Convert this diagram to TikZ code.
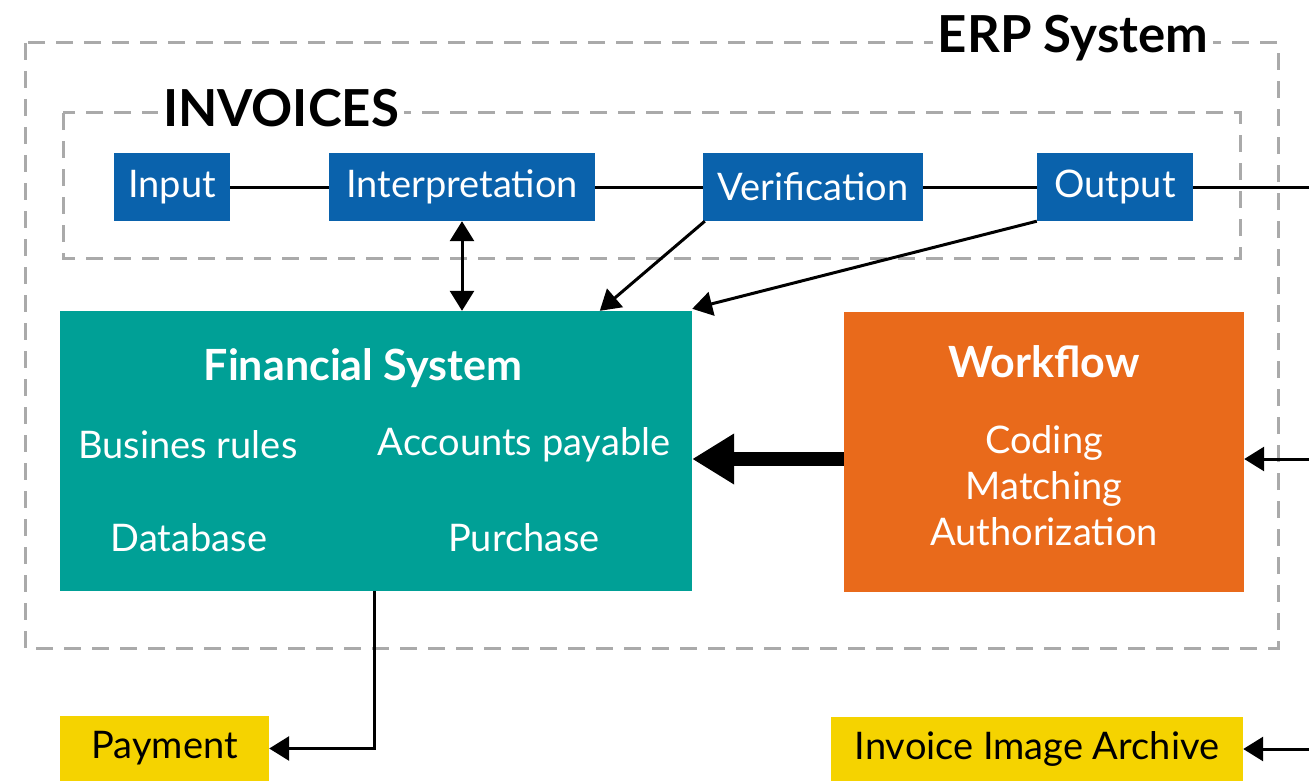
\documentclass[tikz,border=0pt]{standalone}
\usepackage{fontspec}
\setmainfont{Lato}
\usepackage{tikz}
\usetikzlibrary{arrows.meta}

\definecolor{boxblue}{HTML}{0A62AC}
\definecolor{boxteal}{HTML}{00A096}
\definecolor{boxorange}{HTML}{E96A1B}
\definecolor{boxyellow}{HTML}{F5D300}
\definecolor{dashgray}{HTML}{AAAAAA}

\tikzset{
  step box/.style={fill=boxblue, text=white, minimum height=68pt, inner sep=0pt, font=\fontsize{38}{40}\selectfont},
  big box/.style={minimum height=280pt, inner sep=0pt},
  out box/.style={fill=boxyellow, text=black, minimum height=65pt, inner sep=0pt, font=\fontsize{38}{40}\selectfont},
  frame/.style={draw=dashgray, line width=3pt, dash pattern=on 17pt off 11pt},
  title/.style={fill=white, inner sep=5pt, font=\bfseries\fontsize{51}{54}\selectfont},
  inbox/.style={text=white, font=\fontsize{38}{40}\selectfont},
  head/.style={text=white, font=\bfseries\fontsize{43}{46}\selectfont},
  link/.style={line width=3pt},
  tip/.style={-{Triangle[length=20pt, width=24pt]}}
}

\begin{document}
\begin{tikzpicture}[x=1pt, y=-1pt]
    \useasboundingbox (0,0) rectangle (1309,781);

    \draw[frame] (25,43) rectangle (1278,648);
    \draw[frame] (63,113) rectangle (1240,258);
    \node[title] (erp) at (1073,38) {ERP System};
    \node[title] (inv) at (281,108) {INVOICES};

    \node[step box, minimum width=116pt] (input) at (172,187) {Input};
    \node[step box, minimum width=266pt] (interp) at (462,187) {Interpretation};
    \node[step box, minimum width=220pt] (verif) at (813,187) {Verification};
    \node[step box, minimum width=156pt] (output) at (1115,187) {Output};

    \node[big box, fill=boxteal, minimum width=632pt] (fin) at (376,451) {};
    \node[head] (fintitle) at (363,368) {Financial System};
    \node[inbox] (rules) at (188,445) {Busines rules};
    \node[inbox] (payable) at (524,445) {Accounts payable};
    \node[inbox] (db) at (189,538) {Database};
    \node[inbox] (purch) at (524,538) {Purchase};

    \node[big box, fill=boxorange, minimum width=400pt] (work) at (1044,451.5) {};
    \node[head] (worktitle) at (1044,362) {Workflow};
    \node[inbox, align=center, font=\fontsize{38}{46}\selectfont] (worktext) at (1044,486) {Coding\\Matching\\Authorization};

    \node[out box, minimum width=209pt] (pay) at (164.5,748.5) {Payment};
    \node[out box, minimum width=412pt] (archive) at (1037,749) {Invoice Image Archive};

    \coordinate (edgeout) at (1309,187);
    \coordinate (edgework) at (1309,459);
    \coordinate (edgearch) at (1309,749);

    \draw[link] (input) -- (interp);
    \draw[link] (interp) -- (verif);
    \draw[link] (verif) -- (output);
    \draw[link] (output) -- (edgeout);

    \draw[link, {Triangle[length=20pt, width=24pt]}-{Triangle[length=20pt, width=24pt]}] (interp.south) -- (interp.south |- fin.north);
    \draw[link, tip] ([xshift=2pt]verif.south west) -- ([xshift=540pt]fin.north west);
    \draw[link, tip] (output.south west) -- ([yshift=2pt]fin.north east);
    \draw[line width=14pt, -{Triangle[length=42pt, width=48pt]}] (work.west |- edgework) -- (fin.east |- edgework);
    \draw[link, tip] (edgework) -- (work.east |- edgework);
    \draw[link, tip] ([xshift=-2pt]fin.south) |- (pay.east);
    \draw[link, tip] (edgearch) -- (archive.east);
\end{tikzpicture}
\end{document}
